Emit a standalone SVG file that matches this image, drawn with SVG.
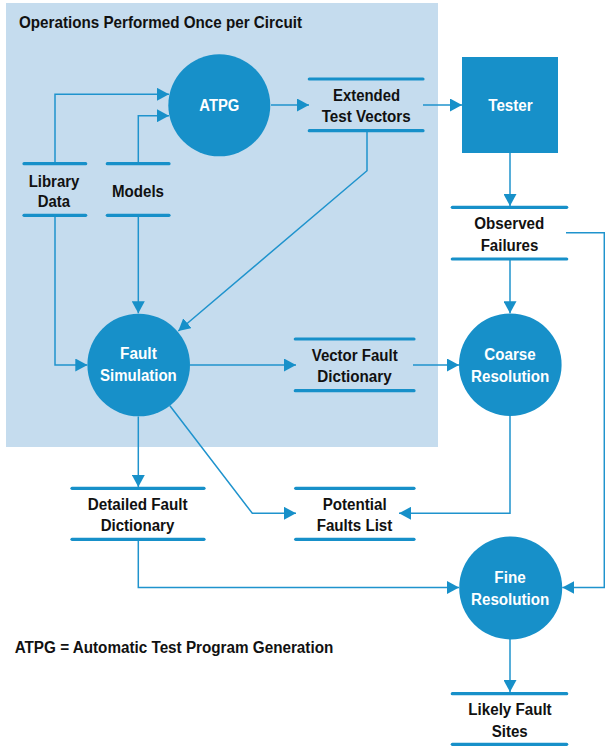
<svg xmlns="http://www.w3.org/2000/svg" width="605" height="746" viewBox="0 0 605 746">
  <defs>
    <style>
      .panel { fill: #c5dcee; }
      .proc { fill: #1790c9; }
      .store { stroke: #1790c9; stroke-width: 3.2; stroke-linecap: round; fill: none; }
      .conn { stroke: #1f93cd; stroke-width: 1.5; fill: none; }
      .lbl { font-family: "Liberation Sans", Arial, sans-serif; font-weight: bold; font-size: 16px; fill: #111; text-anchor: middle; }
      .wlbl { font-family: "Liberation Sans", Arial, sans-serif; font-weight: bold; font-size: 16px; fill: #ffffff; text-anchor: middle; }
      .note { font-family: "Liberation Sans", Arial, sans-serif; font-weight: bold; fill: #111; }
    </style>
    <marker id="arrow" viewBox="0 0 12 13" refX="12" refY="6.5" markerWidth="12" markerHeight="13" markerUnits="userSpaceOnUse" orient="auto">
      <path d="M0,0 L12,6.5 L0,13 z" fill="#1790c9"/>
    </marker>
  </defs>

  <!-- shaded region for the once-per-circuit steps -->
  <rect class="panel" x="6" y="3" width="432" height="444"/>
  <text class="note" x="19" y="27.5" font-size="17" textLength="283" lengthAdjust="spacingAndGlyphs">Operations Performed Once per Circuit</text>

  <!-- connectors -->
  <g id="connectors">
    <polyline class="conn" points="55,163.7 55,94.3 169,94.3" marker-end="url(#arrow)"/>
    <polyline class="conn" points="138.3,163.7 138.3,115.7 169,115.7" marker-end="url(#arrow)"/>
    <line class="conn" x1="271" y1="105" x2="309" y2="105" marker-end="url(#arrow)"/>
    <line class="conn" x1="423" y1="105" x2="462" y2="105" marker-end="url(#arrow)"/>
    <line class="conn" x1="510" y1="153" x2="510" y2="206" marker-end="url(#arrow)"/>
    <line class="conn" x1="510" y1="259" x2="510" y2="313.3" marker-end="url(#arrow)"/>
    <polyline class="conn" points="367,130.7 367,170.7 178.3,331" marker-end="url(#arrow)"/>
    <polyline class="conn" points="55,215.3 55,365 87.3,365" marker-end="url(#arrow)"/>
    <line class="conn" x1="138.3" y1="215.3" x2="138.3" y2="313.3" marker-end="url(#arrow)"/>
    <line class="conn" x1="190" y1="365" x2="296" y2="365" marker-end="url(#arrow)"/>
    <line class="conn" x1="413" y1="365" x2="459" y2="365" marker-end="url(#arrow)"/>
    <line class="conn" x1="138.3" y1="416.5" x2="138.3" y2="487" marker-end="url(#arrow)"/>
    <polyline class="conn" points="169.9,405.7 252.3,513.3 296,513.3" marker-end="url(#arrow)"/>
    <polyline class="conn" points="510,416 510,513.3 399,513.3" marker-end="url(#arrow)"/>
    <polyline class="conn" points="138.3,539.3 138.3,587.5 459,587.5" marker-end="url(#arrow)"/>
    <polyline class="conn" points="566,232.7 604.3,232.7 604.3,587.5 562.3,587.5" marker-end="url(#arrow)"/>
    <line class="conn" x1="510" y1="639" x2="510" y2="692" marker-end="url(#arrow)"/>
  </g>

  <!-- processes -->
  <g id="atpg">
    <circle class="proc" cx="219.3" cy="105.3" r="51"/>
    <text class="wlbl" x="219.3" y="110.5" textLength="40" lengthAdjust="spacingAndGlyphs">ATPG</text>
  </g>
  <g id="fault-simulation">
    <circle class="proc" cx="138.7" cy="365" r="51.3"/>
    <text class="wlbl" x="138.4" y="358.5" textLength="36.7" lengthAdjust="spacingAndGlyphs">Fault</text>
    <text class="wlbl" x="138.4" y="380.7" textLength="76.7" lengthAdjust="spacingAndGlyphs">Simulation</text>
  </g>
  <g id="coarse-resolution">
    <circle class="proc" cx="510.3" cy="364.7" r="51.3"/>
    <text class="wlbl" x="510" y="360" textLength="51.3" lengthAdjust="spacingAndGlyphs">Coarse</text>
    <text class="wlbl" x="510.2" y="381.7" textLength="78.3" lengthAdjust="spacingAndGlyphs">Resolution</text>
  </g>
  <g id="fine-resolution">
    <circle class="proc" cx="510.7" cy="588" r="51.5"/>
    <text class="wlbl" x="510" y="582.5" textLength="31.3" lengthAdjust="spacingAndGlyphs">Fine</text>
    <text class="wlbl" x="510.2" y="604.5" textLength="78.3" lengthAdjust="spacingAndGlyphs">Resolution</text>
  </g>
  <g id="tester">
    <rect class="proc" x="462" y="57" width="96" height="96"/>
    <text class="wlbl" x="510.5" y="111" textLength="44.4" lengthAdjust="spacingAndGlyphs">Tester</text>
  </g>

  <!-- data stores -->
  <g id="library-data">
    <line class="store" x1="24" y1="163.7" x2="85.7" y2="163.7"/>
    <line class="store" x1="24" y1="215.3" x2="85.7" y2="215.3"/>
    <text class="lbl" x="54" y="186.7" textLength="50.7" lengthAdjust="spacingAndGlyphs">Library</text>
    <text class="lbl" x="53.8" y="206.7" textLength="32.3" lengthAdjust="spacingAndGlyphs">Data</text>
  </g>
  <g id="models">
    <line class="store" x1="107.3" y1="163.7" x2="169" y2="163.7"/>
    <line class="store" x1="107.3" y1="215.3" x2="169" y2="215.3"/>
    <text class="lbl" x="138" y="196.5" textLength="52" lengthAdjust="spacingAndGlyphs">Models</text>
  </g>
  <g id="extended-test-vectors">
    <line class="store" x1="309.3" y1="79" x2="423" y2="79"/>
    <line class="store" x1="309.3" y1="130.7" x2="423" y2="130.7"/>
    <text class="lbl" x="366.5" y="100.7" textLength="67" lengthAdjust="spacingAndGlyphs">Extended</text>
    <text class="lbl" x="366.2" y="122" textLength="89" lengthAdjust="spacingAndGlyphs">Test Vectors</text>
  </g>
  <g id="observed-failures">
    <line class="store" x1="452.3" y1="207.3" x2="566.7" y2="207.3"/>
    <line class="store" x1="452.3" y1="259" x2="566.7" y2="259"/>
    <text class="lbl" x="509.3" y="229" textLength="70" lengthAdjust="spacingAndGlyphs">Observed</text>
    <text class="lbl" x="509.5" y="251" textLength="57.7" lengthAdjust="spacingAndGlyphs">Failures</text>
  </g>
  <g id="vector-fault-dictionary">
    <line class="store" x1="295.3" y1="339" x2="414" y2="339"/>
    <line class="store" x1="295.3" y1="390.7" x2="414" y2="390.7"/>
    <text class="lbl" x="354.7" y="360.7" textLength="86" lengthAdjust="spacingAndGlyphs">Vector Fault</text>
    <text class="lbl" x="354.5" y="381.7" textLength="74.4" lengthAdjust="spacingAndGlyphs">Dictionary</text>
  </g>
  <g id="detailed-fault-dictionary">
    <line class="store" x1="72" y1="488.3" x2="204" y2="488.3"/>
    <line class="store" x1="72" y1="539.3" x2="204" y2="539.3"/>
    <text class="lbl" x="137.7" y="510" textLength="100" lengthAdjust="spacingAndGlyphs">Detailed Fault</text>
    <text class="lbl" x="137.5" y="530.7" textLength="73.7" lengthAdjust="spacingAndGlyphs">Dictionary</text>
  </g>
  <g id="potential-faults-list">
    <line class="store" x1="295.7" y1="488.3" x2="414" y2="488.3"/>
    <line class="store" x1="295.7" y1="539.3" x2="414" y2="539.3"/>
    <text class="lbl" x="354.7" y="510" textLength="64" lengthAdjust="spacingAndGlyphs">Potential</text>
    <text class="lbl" x="354.5" y="530.7" textLength="75.7" lengthAdjust="spacingAndGlyphs">Faults List</text>
  </g>
  <g id="likely-fault-sites">
    <line class="store" x1="452.3" y1="693.7" x2="566.7" y2="693.7"/>
    <line class="store" x1="452.3" y1="744.3" x2="566.7" y2="744.3"/>
    <text class="lbl" x="510" y="715" textLength="83.3" lengthAdjust="spacingAndGlyphs">Likely Fault</text>
    <text class="lbl" x="509.7" y="736.7" textLength="36" lengthAdjust="spacingAndGlyphs">Sites</text>
  </g>

  <!-- abbreviation key -->
  <text class="note" x="14.7" y="653.3" font-size="16" textLength="318.6" lengthAdjust="spacingAndGlyphs">ATPG = Automatic Test Program Generation</text>
</svg>
